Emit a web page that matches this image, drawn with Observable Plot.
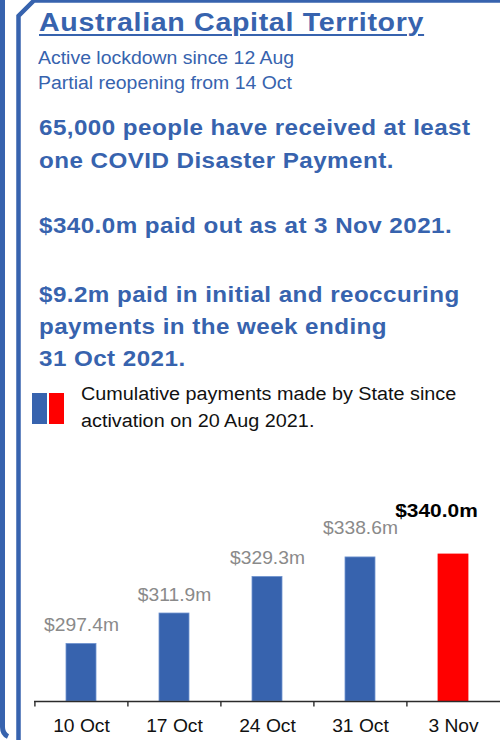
<!DOCTYPE html>
<html>
<head>
<meta charset="utf-8">
<script src="https://cdn.jsdelivr.net/npm/d3@7"></script>
<script src="https://cdn.jsdelivr.net/npm/@observablehq/plot@0.6"></script>
<style>
  html, body { margin: 0; padding: 0; background: #fff; }
  #page { position: relative; width: 500px; height: 740px; overflow: hidden; font-family: "Liberation Sans", Arial, sans-serif; }
  .abs { position: absolute; white-space: nowrap; transform-origin: 0 0; }
  #title { left: 39px; top: 6.7px; font-size: 26px; line-height: 30px; font-weight: bold; color: #3763ae; letter-spacing: 0.6px; transform: scaleX(1.1); text-decoration: underline; text-decoration-thickness: 2px; text-underline-offset: 3px; }
  #sub { left: 38px; top: 46.3px; font-size: 18px; line-height: 25px; color: #3763ae; transform: scaleX(1.08); }
  .bold { left: 39px; font-size: 22px; font-weight: bold; color: #3763ae; letter-spacing: 0.4px; transform: scaleX(1.1); }
  #p1 { top: 110.9px; line-height: 33.3px; }
  #p2 { top: 209.2px; line-height: 33px; }
  #p3 { top: 278.6px; line-height: 32.2px; }
  #legtext { left: 81px; top: 381.1px; font-size: 18px; line-height: 26.7px; color: #111; transform: scaleX(1.1); }
  .sw { position: absolute; top: 393px; width: 15px; height: 31px; }
  #chart { position: absolute; left: 0; top: 460px; }
  #deco { position: absolute; left: 0; top: 0; }
</style>
</head>
<body>
<div id="page">
  <svg id="deco" width="500" height="740">
    <path d="M2.5,0 V727 Q2.5,734 8,736.5" fill="none" stroke="#3763ae" stroke-width="5"/>
    <path d="M18.5,740 V16 L34,0.5 H500" fill="none" stroke="#3763ae" stroke-width="4.5"/>
  </svg>
  <div id="title" class="abs">Australian Capital Territory</div>
  <div id="sub" class="abs">Active lockdown since 12 Aug<br>Partial reopening from 14 Oct</div>
  <div id="p1" class="abs bold">65,000 people have received at least<br>one COVID Disaster Payment.</div>
  <div id="p2" class="abs bold">$340.0m paid out as at 3 Nov 2021.</div>
  <div id="p3" class="abs bold">$9.2m paid in initial and reoccuring<br>payments in the week ending<br>31 Oct 2021.</div>
  <div class="sw" style="left:32px;background:#3763ae"></div>
  <div class="sw" style="left:49px;background:#ff0000"></div>
  <div id="legtext" class="abs">Cumulative payments made by State since<br>activation on 20 Aug 2021.</div>
  <div id="chart"></div>
</div>
<script>
const dates = ["10 Oct", "17 Oct", "24 Oct", "31 Oct", "3 Nov"];
const payments = [297.4, 311.9, 329.3, 338.6, 340.0];
const yBase = 270;
const yTop = 360;

const blue = "#3763ae";
const red = "#ff0000";
const data = dates.map((d, i) => ({date: d, value: payments[i], latest: i === dates.length - 1}));
const fmt = v => `$${v.toFixed(1)}m`;

const W = 500, ML = 34, MR = 0;
const step = (W - ML - MR) / dates.length;

const chart = Plot.plot({
  width: W,
  height: 280,
  marginLeft: ML,
  marginRight: MR,
  marginTop: 52,
  marginBottom: 39,
  style: {fontFamily: "'Liberation Sans', Arial, sans-serif", background: "transparent", overflow: "visible"},
  x: {domain: dates, paddingInner: 0.68, paddingOuter: 0.34},
  y: {domain: [yBase, yTop], axis: null},
  color: {type: "identity"},
  marks: [
    Plot.barY(data, {
      x: "date", y1: yBase, y2: "value",
      fill: d => d.latest ? red : blue,
      stroke: d => d.latest ? red : "#6f93cf",
      strokeWidth: 0.8
    }),
    Plot.ruleY([yBase], {stroke: "#2b2b2b", strokeWidth: 1.6}),
    Plot.ruleX(dates, {x: d => d, y1: yBase, y2: yBase - 2.6, dx: -step / 2, stroke: "#2b2b2b", strokeWidth: 1.4}),
    Plot.axisX({tickSize: 0, tickPadding: 18.5, fontSize: 17.5, fill: "#111", label: null}),
    Plot.text(data, {
      filter: (d, i) => i < 3,
      x: "date", y: "value", text: d => fmt(d.value),
      dy: -12.5, lineAnchor: "bottom", fill: "#8a8a8a", fontSize: 17.5
    }),
    Plot.text(data, {
      filter: (d, i) => i === 3,
      x: "date", y: "value", text: d => fmt(d.value),
      dy: -23, lineAnchor: "bottom", fill: "#8a8a8a", fontSize: 17.5
    }),
    Plot.text(data, {
      filter: d => d.latest,
      x: "date", y: "value", text: d => fmt(d.value),
      dy: -37.7, dx: -17, lineAnchor: "bottom", fill: "#000", fontSize: 19, fontWeight: "bold"
    })
  ]
});
// widen glyphs horizontally like the reference rendering
d3.select(chart).selectAll("text").each(function () {
  const t = this.getAttribute("transform") || "";
  this.setAttribute("transform", (t + " scale(1.1,1)").trim());
});
document.getElementById("chart").appendChild(chart);
</script>
</body>
</html>
